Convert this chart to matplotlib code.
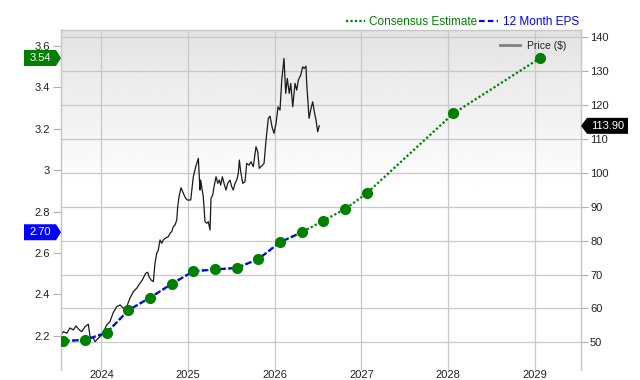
import matplotlib
matplotlib.use('Agg')
import matplotlib.pyplot as plt
import numpy as np
from matplotlib.lines import Line2D
from matplotlib.patches import Polygon
from matplotlib.transforms import IdentityTransform

plt.rcParams['font.family'] = ['Liberation Sans', 'DejaVu Sans']

# 12-month EPS (reported) followed by consensus estimates, decimal years
eps_dates = [2023.562, 2023.812, 2024.062, 2024.312, 2024.562, 2024.812,
             2025.062, 2025.312, 2025.562, 2025.812, 2026.062, 2026.312,
             2026.562, 2026.812, 2027.062, 2028.062, 2029.062]
eps_values = [2.176, 2.181, 2.216, 2.324, 2.385, 2.451, 2.512, 2.521, 2.528,
              2.571, 2.652, 2.70, 2.756, 2.812, 2.888, 3.273, 3.54]
n_reported = 12

price_dates = [
    2023.532, 2023.562, 2023.601, 2023.639, 2023.677, 2023.708, 2023.746, 2023.774,
    2023.812, 2023.850, 2023.870, 2023.908, 2023.927, 2023.954, 2023.985, 2024.020,
    2024.062, 2024.100, 2024.135, 2024.178, 2024.216, 2024.254, 2024.293, 2024.331,
    2024.369, 2024.408, 2024.446, 2024.473, 2024.496, 2024.512, 2024.535, 2024.550,
    2024.573, 2024.600, 2024.619, 2024.639, 2024.657, 2024.677, 2024.697, 2024.715,
    2024.735, 2024.773, 2024.792, 2024.812, 2024.830, 2024.850, 2024.870, 2024.881,
    2024.896, 2024.919, 2024.946, 2024.973, 2024.994, 2025.031, 2025.061, 2025.089,
    2025.119, 2025.138, 2025.146, 2025.176, 2025.196, 2025.216, 2025.234, 2025.254,
    2025.265, 2025.285, 2025.300, 2025.323, 2025.343, 2025.361, 2025.377, 2025.396,
    2025.415, 2025.438, 2025.458, 2025.484, 2025.504, 2025.522, 2025.542, 2025.562,
    2025.580, 2025.592, 2025.608, 2025.631, 2025.657, 2025.677, 2025.704, 2025.727,
    2025.753, 2025.784, 2025.804, 2025.822, 2025.850, 2025.877, 2025.900, 2025.926,
    2025.946, 2025.969, 2025.992, 2026.015, 2026.038, 2026.061, 2026.081, 2026.107,
    2026.127, 2026.145, 2026.168, 2026.185, 2026.208, 2026.234, 2026.254, 2026.272,
    2026.300, 2026.323, 2026.341, 2026.361, 2026.369, 2026.396, 2026.419, 2026.438,
    2026.457, 2026.476, 2026.496, 2026.514]
price_values = [
    52.16, 53.13, 52.66, 54.22, 53.63, 54.81, 53.63, 53.13,
    54.61, 55.31, 51.66, 51.18, 50.18, 50.89, 51.66, 52.75,
    55.11, 56.08, 58.65, 60.51, 61.01, 60.03, 60.51, 63.07,
    64.93, 65.94, 67.41, 68.39, 69.57, 70.36, 70.66, 69.36,
    68.39, 67.89, 73.31, 76.26, 77.24, 80.19, 79.22, 80.19,
    80.69, 81.16, 82.17, 82.64, 84.11, 84.61, 86.09, 90.02,
    92.97, 95.62, 93.97, 92.49, 91.99, 91.99, 98.87, 101.82,
    104.30, 94.94, 97.89, 92.97, 85.59, 85.12, 85.59, 83.14,
    92.49, 93.47, 95.92, 98.87, 96.92, 97.89, 96.42, 98.87,
    96.92, 94.94, 96.92, 97.89, 95.92, 94.94, 96.92, 97.89,
    99.87, 103.79, 100.34, 96.92, 97.39, 102.82, 102.32, 103.29,
    101.82, 107.72, 106.24, 101.35, 102.02, 102.82, 109.70, 116.10,
    116.78, 113.62, 111.67, 114.62, 119.52, 118.55, 127.40, 133.80,
    123.48, 127.90, 123.48, 126.43, 119.52, 126.43, 124.45, 127.40,
    128.88, 131.32, 130.85, 131.53, 126.43, 116.10, 119.05, 121.00,
    118.05, 115.60, 112.14, 113.90]

year_ticks = [2024, 2025, 2026, 2027, 2028, 2029]
eps_ticks = [2.2, 2.4, 2.6, 2.8, 3.0, 3.2, 3.4, 3.6]
price_ticks = [50, 60, 70, 80, 90, 100, 110, 120, 130, 140]

W, H = 640, 380
GREEN = '#008000'
BLUE = '#0000ff'
GRID = '#c8c8c8'
TEXT = '#222222'

fig = plt.figure(figsize=(W / 100, H / 100), dpi=100)
ax = fig.add_axes([60.5 / W, 10 / H, 520.5 / W, 340 / H])
ax2 = ax.twinx()

# Price axis (right side, owns the grid and the gray-to-white background)
grad = np.clip(np.linspace(0.89, 1.12, 256), 0, 1).reshape(-1, 1)
ax.imshow(grad, extent=[0, 1, 0, 1], transform=ax.transAxes, origin='upper',
          aspect='auto', cmap='gray', vmin=0, vmax=1, zorder=0)
ax.set_axisbelow(True)
ax.grid(True, color=GRID, linewidth=0.9)
ax.plot(price_dates, price_values, color='#1a1a1a', linewidth=0.9, zorder=2)
ax.set_xlim(2023.529, 2029.533)
ax.set_ylim(41.8, 142.2)
ax.set_xticks(year_ticks)
ax.set_xticklabels([str(y) for y in year_ticks])
ax.set_yticks(price_ticks)
ax.yaxis.tick_right()
ax.tick_params(axis='x', length=0, pad=0.3, labelsize=8, labelcolor=TEXT)
ax.tick_params(axis='y', length=5, width=0.8, color='#b0b0b0', pad=1.5,
               labelsize=8, labelcolor=TEXT)

# EPS axis (left side)
ax2.plot(eps_dates, eps_values, color=GREEN, linestyle=(0, (1, 1)), linewidth=1.6, zorder=3)
ax2.plot(eps_dates[:n_reported], eps_values[:n_reported], color=BLUE,
         linestyle=(0, (2.5, 1.5)), linewidth=1.6, zorder=4)
ax2.plot(eps_dates, eps_values, 'o', color=GREEN, markersize=7, zorder=5)
ax2.set_ylim(2.036, 3.675)
ax2.set_yticks(eps_ticks)
ax2.set_yticklabels([f'{v:g}' for v in eps_ticks])
ax2.yaxis.set_ticks_position('left')
ax2.yaxis.set_label_position('left')
ax2.tick_params(axis='y', length=6, width=0.8, color='#b0b0b0', pad=1.5,
                labelsize=8, labelcolor=TEXT)

for a in (ax, ax2):
    a.spines['bottom'].set_visible(False)
    for s in ('left', 'right', 'top'):
        a.spines[s].set_color(GRID)
        a.spines[s].set_linewidth(0.9)

# Legends
top_handles = [
    Line2D([], [], color=GREEN, linestyle=(0, (1, 1)), linewidth=1.6),
    Line2D([], [], color=BLUE, linestyle=(0, (2.5, 1.5)), linewidth=1.6),
]
leg = ax2.legend(top_handles, ['Consensus Estimate', '12 Month EPS'], ncol=2,
                 loc='lower right', bbox_to_anchor=(1.0, 1.0), frameon=False,
                 fontsize=8.5, labelcolor=[GREEN, BLUE], handlelength=1.6,
                 handletextpad=0.35, columnspacing=0.2, borderpad=0.1,
                 borderaxespad=0.1)
ax2.add_artist(leg)
ax2.legend([Line2D([], [], color='#808080', linewidth=2)], ['Price ($)'],
           loc='upper right', bbox_to_anchor=(0.985, 0.99), frameon=False,
           fontsize=7.5, labelcolor=TEXT, handlelength=1.9, handletextpad=0.6,
           borderpad=0.2)


def badge(y_pix, x_box0, x_box1, tip_x, color, label):
    h = 8
    if tip_x > x_box1:
        pts = [(x_box0, y_pix - h), (x_box1, y_pix - h), (tip_x, y_pix),
               (x_box1, y_pix + h), (x_box0, y_pix + h)]
    else:
        pts = [(tip_x, y_pix), (x_box0, y_pix - h), (x_box1, y_pix - h),
               (x_box1, y_pix + h), (x_box0, y_pix + h)]
    fig.add_artist(Polygon(pts, closed=True, facecolor=color, edgecolor='none',
                           transform=IdentityTransform()))
    fig.text((x_box0 + x_box1) / 2 / W, y_pix / H, label, color='white',
             fontsize=8, ha='center', va='center')


x0 = eps_dates[0]
badge(ax2.transData.transform((x0, eps_values[-1]))[1], 24, 56, 61, GREEN,
      f'{eps_values[-1]:.2f}')
badge(ax2.transData.transform((x0, eps_values[n_reported - 1]))[1], 24, 56, 61, BLUE,
      f'{eps_values[n_reported - 1]:.2f}')
badge(ax.transData.transform((x0, price_values[-1]))[1], 587, 628, 581, 'black',
      f'{price_values[-1]:.2f}')

fig.savefig('out.png', dpi=100)
